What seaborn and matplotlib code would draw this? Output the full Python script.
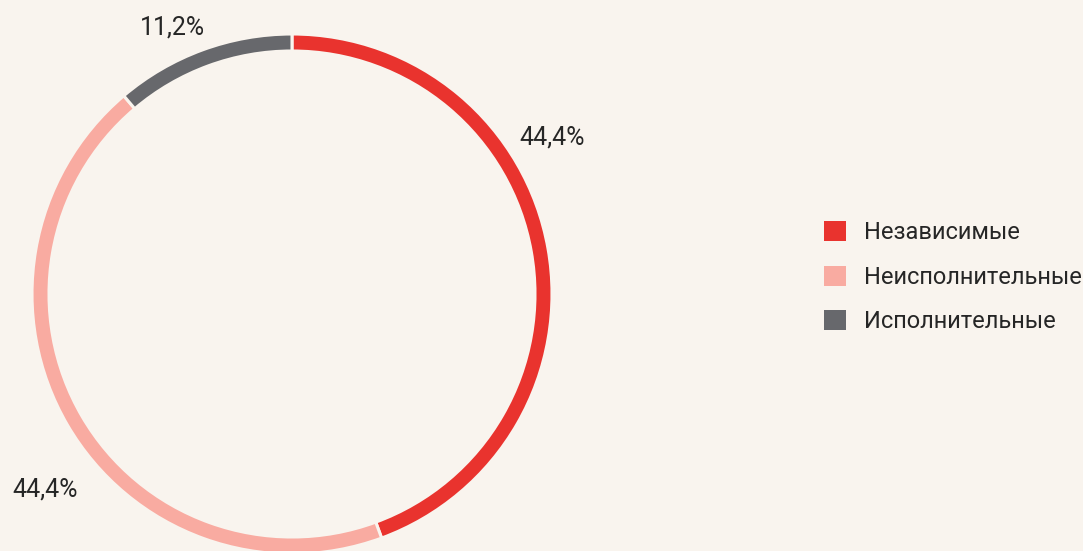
import matplotlib
matplotlib.use("Agg")
import matplotlib.pyplot as plt
from matplotlib.patches import Patch
import seaborn as sns

categories = ["Независимые", "Неисполнительные", "Исполнительные"]
shares = [44.4, 44.4, 11.2]
labels = ["44,4%", "44,4%", "11,2%"]

BG = "#F9F4EE"
palette = ["#E9332E", "#F9ABA1", "#67686C"]

sns.set_theme(style="white")
plt.rcParams["font.family"] = ["Roboto", "DejaVu Sans"]

W, H = 1083, 551
fig = plt.figure(figsize=(W / 100, H / 100), dpi=100, facecolor=BG)

# ring: centre (292, 294) px, outer radius 260 px
cx, cy, R = 292, 294, 260
ax = fig.add_axes([(cx - R) / W, (H - cy - R) / H, 2 * R / W, 2 * R / H])
ax.set_facecolor(BG)
wedges, _ = ax.pie(
    shares,
    colors=palette,
    startangle=90,
    counterclock=False,
    radius=1.0,
    wedgeprops=dict(width=17 / R, edgecolor=BG, linewidth=2.2),
)
ax.set_xlim(-1, 1)
ax.set_ylim(-1, 1)
ax.set_aspect("equal")
ax.axis("off")

TXT = "#262626"

# percentage labels, placed in pixel coordinates
label_pos = [(552, 137), (45, 490), (173, 28)]
for text, (px, py) in zip(labels, label_pos):
    fig.text(px / W, 1 - py / H, text, ha="center", va="center",
             fontsize=18, color=TXT)

handles = [Patch(facecolor=c, edgecolor="none") for c in palette]
leg = fig.legend(
    handles, categories,
    loc="upper left",
    bbox_to_anchor=(824 / W, 1 - 221 / H),
    frameon=False,
    prop=dict(size=17),
    handlelength=0.95,
    handleheight=0.95,
    handletextpad=0.75,
    labelspacing=0.9,
    borderpad=0,
    borderaxespad=0,
)
for t in leg.get_texts():
    t.set_color(TXT)

fig.savefig("out.png", dpi=100, facecolor=BG)
